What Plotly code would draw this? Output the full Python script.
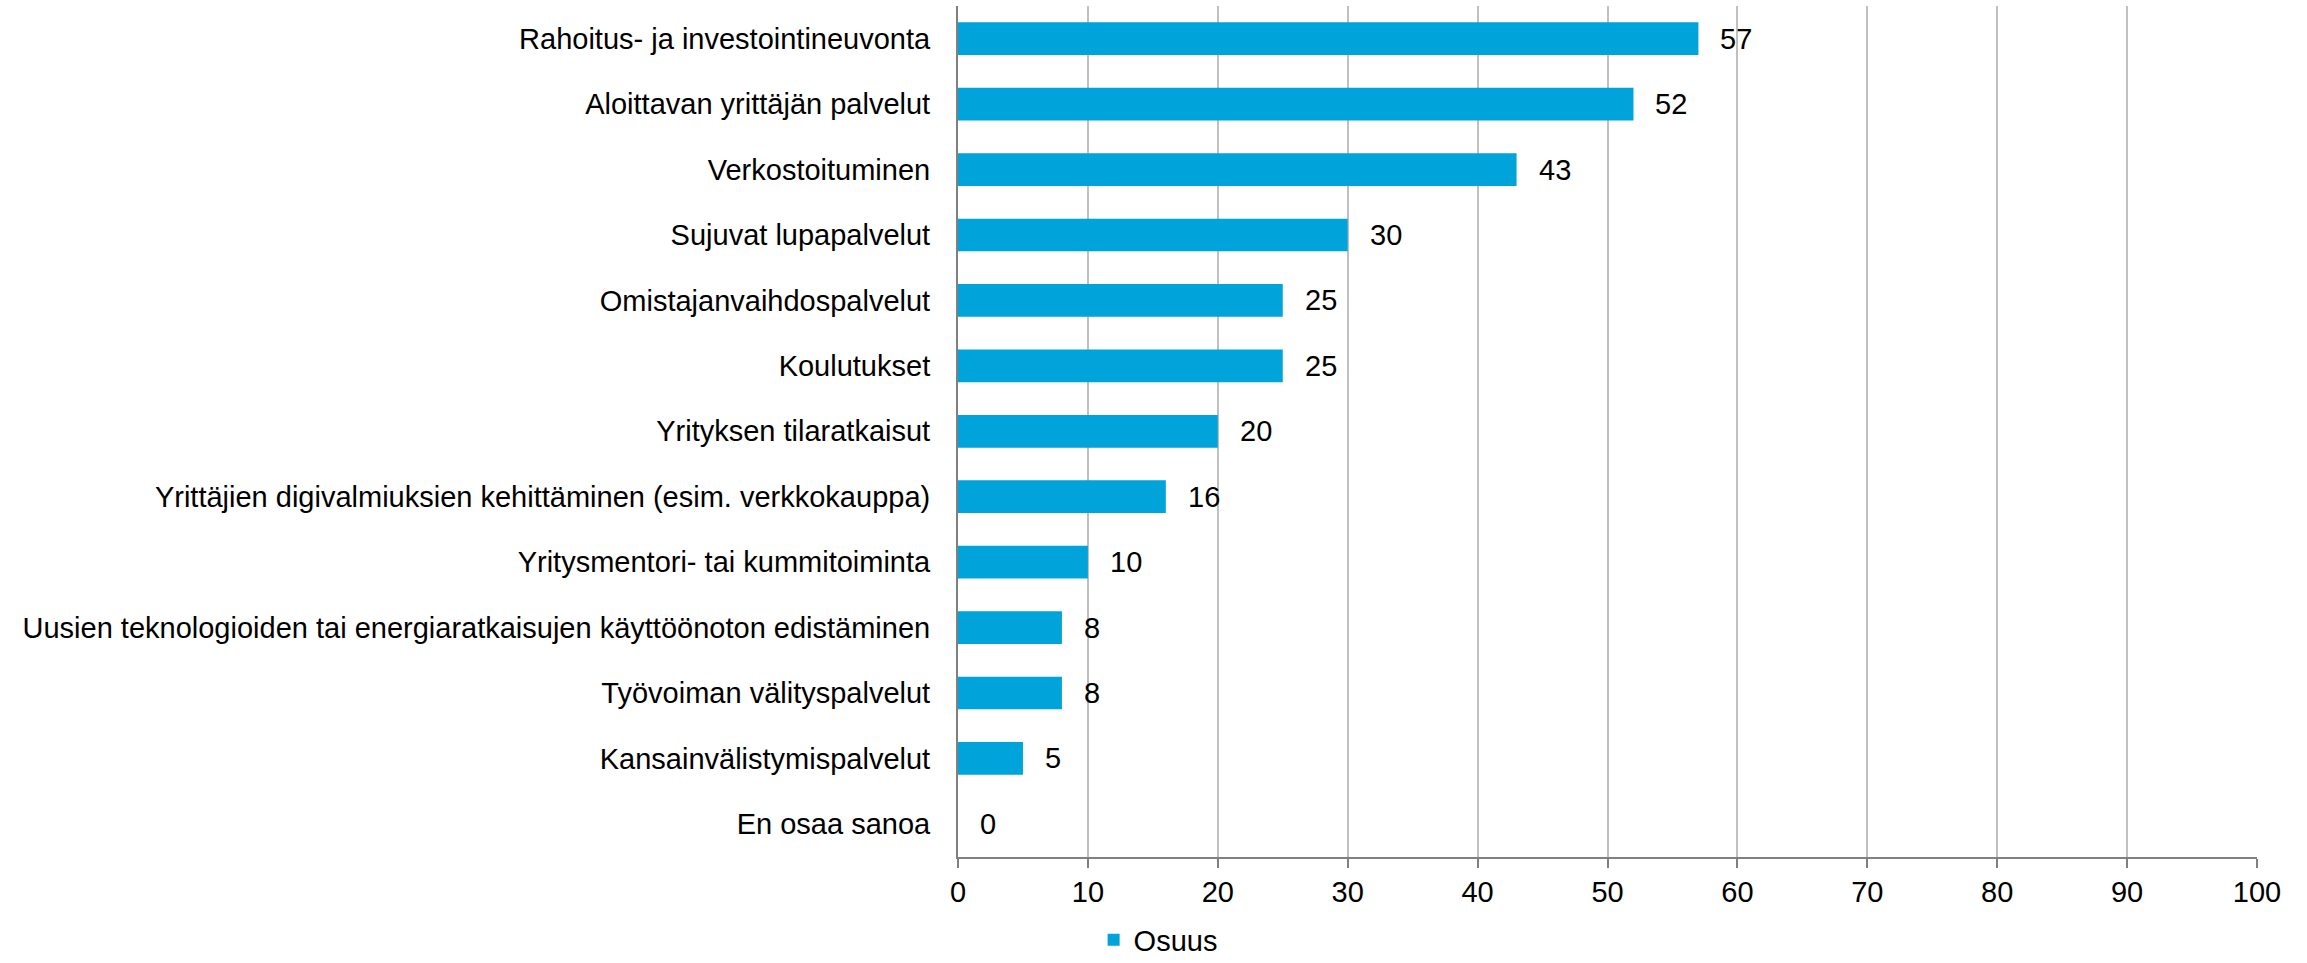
import plotly.graph_objects as go

# Services, listed from the most to the least requested
categories = [
    "Rahoitus- ja investointineuvonta",
    "Aloittavan yrittäjän palvelut",
    "Verkostoituminen",
    "Sujuvat lupapalvelut",
    "Omistajanvaihdospalvelut",
    "Koulutukset",
    "Yrityksen tilaratkaisut",
    "Yrittäjien digivalmiuksien kehittäminen (esim. verkkokauppa)",
    "Yritysmentori- tai kummitoiminta",
    "Uusien teknologioiden tai energiaratkaisujen käyttöönoton edistäminen",
    "Työvoiman välityspalvelut",
    "Kansainvälistymispalvelut",
    "En osaa sanoa",
]
osuus = [57, 52, 43, 30, 25, 25, 20, 16, 10, 8, 8, 5, 0]
x_ticks = [0, 10, 20, 30, 40, 50, 60, 70, 80, 90, 100]

FONT = "Liberation Sans, Arial, sans-serif"
BLUE = "#00A3DA"
SIZE = 29

fig = go.Figure()
fig.add_trace(go.Bar(
    x=osuus,
    y=categories,
    orientation="h",
    name="Osuus",
    marker=dict(color=BLUE, line=dict(width=0)),
    width=0.5,
))

# value labels just past the end of each bar
for cat, val in zip(categories, osuus):
    fig.add_annotation(
        x=val, y=cat, text=str(val), showarrow=False,
        xanchor="left", yanchor="middle", xshift=20,
        font=dict(family=FONT, size=SIZE, color="#000000"),
    )

fig.update_layout(
    width=2307, height=963,
    margin=dict(l=958, r=50, t=6, b=105),
    paper_bgcolor="white", plot_bgcolor="white",
    font=dict(family=FONT, size=SIZE, color="#000000"),
    showlegend=True,
    legend=dict(
        orientation="h", xref="container", x=0.502, xanchor="center",
        yref="container", y=0.024, yanchor="middle",
        font=dict(family=FONT, size=SIZE), itemwidth=30,
    ),
    bargap=0.5,
)

fig.update_xaxes(
    range=[0, 100], tickvals=x_ticks, ticktext=[str(t) for t in x_ticks],
    showgrid=True, gridcolor="#C0C0C0", gridwidth=2,
    showline=True, linecolor="#808080", linewidth=2,
    ticks="outside", ticklen=9, tickwidth=2, tickcolor="#808080",
    zeroline=False, fixedrange=True,
)
fig.update_yaxes(
    categoryorder="array", categoryarray=categories[::-1],
    showgrid=False, showline=True, linecolor="#808080", linewidth=2,
    ticks="outside", ticklen=20, tickcolor="rgba(0,0,0,0)",
    zeroline=False, fixedrange=True,
)

fig.write_html("out.html")
